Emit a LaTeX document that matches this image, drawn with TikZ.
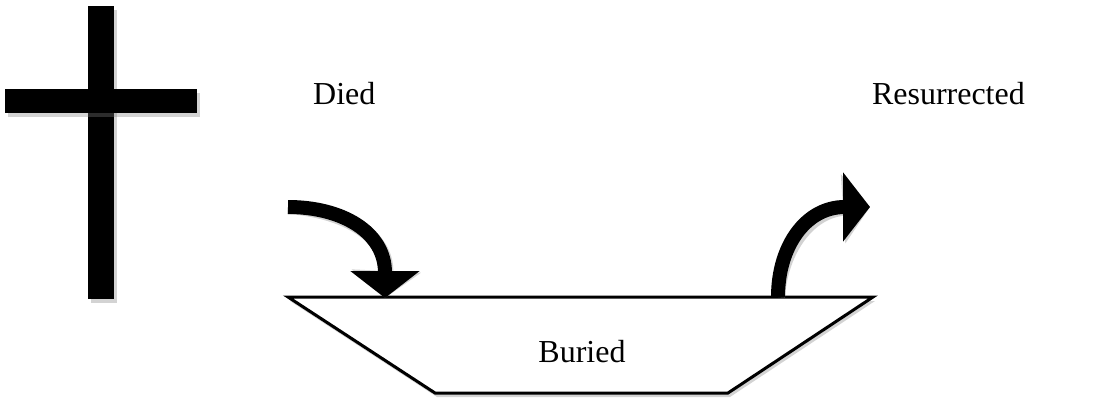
\documentclass[tikz,border=0pt]{standalone}
\usepackage{fontspec}
\setmainfont{Liberation Serif}
\usetikzlibrary{arrows.meta, shadows}

\begin{document}
\begin{tikzpicture}[x = 1pt, y = -1pt,
    word/.style = {font = \fontsize{32}{36}\selectfont, inner sep = 0pt},
    bar/.style = {fill = black, drop shadow = {opacity = 0.35, shadow xshift = 3pt, shadow yshift = -4pt}},
    curl/.style = {line width = 14pt, -{Triangle[width = 68pt, length = 27pt]}},
    ghost/.style = {curl, draw = black!35, opacity = 0.5, shift = {(3,4)}}]
    \useasboundingbox (0,0) rectangle (1097,401);
    % cross
    \path[bar] (88,6) rectangle (114,299);
    \path[bar] (5,89) rectangle (197,113);
    % grave
    \coordinate (tl) at (288,297);
    \coordinate (tr) at (873,297);
    \coordinate (br) at (728,393);
    \coordinate (bl) at (435,393);
    \draw[line width = 3pt, line join = miter, fill = white,
        drop shadow = {opacity = 0.35, shadow xshift = 2pt, shadow yshift = -4pt}]
        (tl) -- (tr) -- (br) -- (bl) -- cycle;
    \node[word, anchor = base] (buried) at (582,362) {Buried};
    \node[word, anchor = base west] (died) at (313,105) {Died};
    \node[word, anchor = base east] (risen) at (1025,105) {Resurrected};
    % arrows
    \coordinate (down0) at (288,207);
    \coordinate (down1) at (385,298);
    \coordinate (up0) at (778,297);
    \coordinate (up1) at (870,207);
    \draw[ghost] (down0) .. controls (342,207) and (385,232) .. (down1);
    \draw[ghost] (up0) .. controls (778,246) and (806,207) .. (up1);
    \draw[curl] (down0) .. controls (342,207) and (385,232) .. (down1);
    \draw[curl] (up0) .. controls (778,246) and (806,207) .. (up1);
\end{tikzpicture}
\end{document}
